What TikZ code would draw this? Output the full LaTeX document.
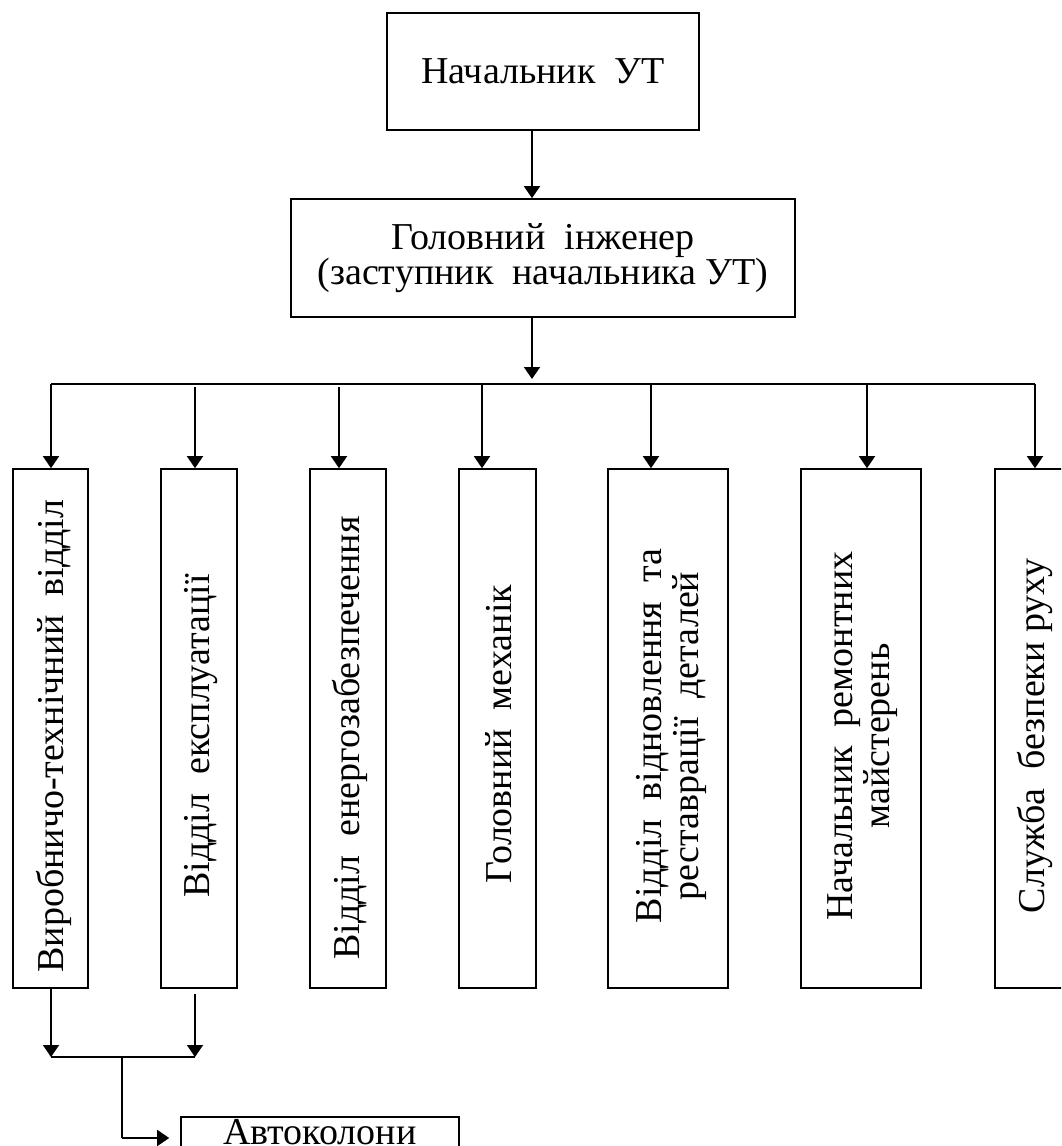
\documentclass[tikz,border=0pt]{standalone}
\usepackage{fontspec}
\setmainfont{Liberation Serif}
\usetikzlibrary{arrows.meta}
\begin{document}
\begin{tikzpicture}[x=1pt,y=-1pt,
  box/.style={draw, line width=1.6pt, inner sep=0pt, rectangle},
  lbl/.style={font=\fontsize{38pt}{34pt}\selectfont, align=center, inner sep=0pt},
  hlbl/.style={font=\fontsize{38pt}{34pt}\selectfont, inner sep=0pt},
  vlbl/.style={font=\fontsize{38pt}{37pt}\selectfont, align=center, inner sep=0pt, rotate=90},
  conn/.style={line width=1.6pt},
  arr/.style={conn, -{Triangle[length=12pt,width=16pt]}}]
\useasboundingbox (0,0) rectangle (1061,1146);
\clip (0,0) rectangle (1061,1146);

% top boxes
\node[box, lbl, minimum width=312pt, minimum height=117pt] (top) at (543,71.5) {Начальник\ \ УТ};
\node[box, lbl, minimum width=504pt, minimum height=118pt] (chief) at (543,258) {Головний\ \ інженер\\(заступник\ \ начальника УТ)};

% department boxes
\node[box, minimum width=75pt, minimum height=519pt] (b1) at (50.5,728.5) {};
\node[box, minimum width=76pt, minimum height=519pt] (b2) at (199,728.5) {};
\node[box, minimum width=76pt, minimum height=519pt] (b3) at (348,728.5) {};
\node[box, minimum width=77pt, minimum height=519pt] (b4) at (497.5,728.5) {};
\node[box, minimum width=120pt, minimum height=519pt] (b5) at (668,728.5) {};
\node[box, minimum width=120pt, minimum height=519pt] (b6) at (861,728.5) {};
\node[box, minimum width=76pt, minimum height=519pt] (b7) at (1033,728.5) {};

\node[vlbl] (l1) at (54,736) {Виробничо-технічний\ \ відділ};
\node[vlbl] (l2) at (201,736) {Відділ\ \ експлуатації};
\node[vlbl] (l3) at (350,738) {Відділ\ \ енергозабезпечення};
\node[vlbl] (l4) at (499,734) {Головний\ \ механік};
\node[vlbl] (l5) at (671,736) {Відділ\ \ відновлення\ \ та\\реставрації\ \ деталей};
\node[vlbl] (l6) at (863,736) {Начальник\ \ ремонтних\\майстерень};
\node[vlbl] (l7) at (1035,736) {Служба\ \ безпеки руху};

% bottom box
\node[box, minimum width=278pt, minimum height=64pt] (auto) at (320,1149) {};
\node[hlbl, anchor=base] (lauto) at (320,1144) {Автоколони};

% connectors top
\coordinate (k1) at (532,0);
\draw[arr] (top.south -| k1) -- (chief.north -| k1);
\coordinate (hub) at (532,379);
\draw[arr] (chief.south -| hub) -- (hub);

% bus
\coordinate (busL) at (51,384);
\coordinate (busR) at (1035,384);
\draw[conn] (busL) -- (busR);
\coordinate (t1) at (51,384);
\coordinate (t2) at (195,387);
\coordinate (t3) at (339,387);
\coordinate (t4) at (482,384);
\coordinate (t5) at (651,384);
\coordinate (t6) at (867,384);
\coordinate (t7) at (1035,384);
\draw[arr] (t1) -- (t1 |- b1.north);
\draw[arr] (t2) -- (t2 |- b2.north);
\draw[arr] (t3) -- (t3 |- b3.north);
\draw[arr] (t4) -- (t4 |- b4.north);
\draw[arr] (t5) -- (t5 |- b5.north);
\draw[arr] (t6) -- (t6 |- b6.north);
\draw[arr] (t7) -- (t7 |- b7.north);

% lower connectors
\coordinate (jl) at (51,1057);
\coordinate (jr) at (195,1057);
\coordinate (j) at (122,1057);
\coordinate (jb) at (122,1138);
\draw[arr] (b1.south -| jl) -- (jl);
\draw[arr] ([yshift=-5pt]b2.south -| jr) -- (jr);
\draw[conn] (jl) -- (jr);
\draw[conn] (j) -- (jb);
\draw[arr, shorten >=11pt] (jb) -- (jb -| auto.west);
\end{tikzpicture}
\end{document}
